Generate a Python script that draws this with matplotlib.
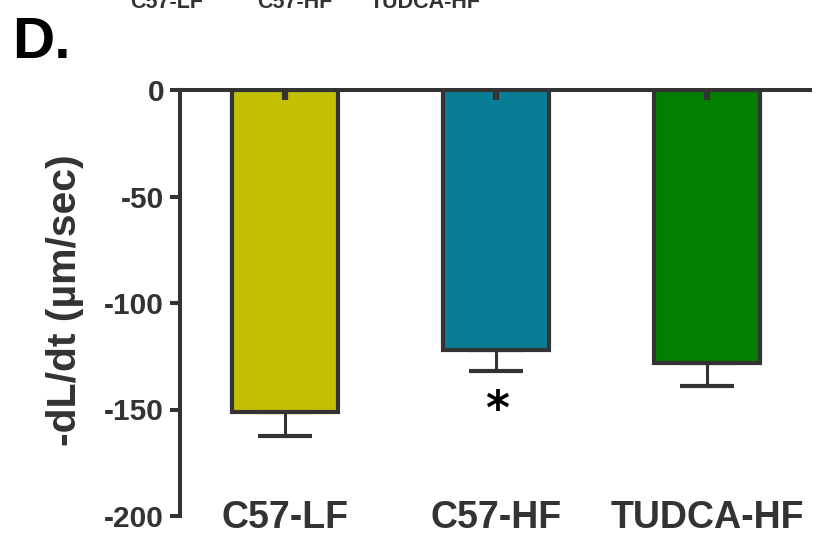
import matplotlib
matplotlib.use("Agg")
import matplotlib.pyplot as plt
import numpy as np

plt.rcParams['axes.unicode_minus'] = False
plt.rcParams['font.family'] = ['Liberation Sans', 'DejaVu Sans']

# data
groups = ["C57-LF", "C57-HF", "TUDCA-HF"]
means = [-151, -122, -128]
sem = [11.5, 10, 11]
bar_colors = ["#C2C000", "#087D96", "#007F00"]
yticks = [0, -50, -100, -150, -200]
sig = ["", "*", ""]

dark = "#333333"
W, H = 819, 535

fig = plt.figure(figsize=(W / 100, H / 100), dpi=100)
ax = fig.add_axes([180 / W, 1 - 516 / H, 630 / W, 426 / H])

x = np.arange(len(groups))
ax.bar(x, means, width=0.5, color=bar_colors, edgecolor=dark, linewidth=3, zorder=2)
ax.errorbar(x, means, yerr=[sem, [0] * len(sem)], fmt='none', ecolor=dark,
            elinewidth=2.2, capsize=19.5, capthick=3, zorder=1)
# little stubs under the baseline, as in the original
ax.vlines(x, 0, -4.7, color=dark, lw=4.5, zorder=3)

ax.set_xlim(-0.498, 2.488)
ax.set_ylim(-200, 0)
ax.set_yticks(yticks)
ax.set_yticklabels([str(t) for t in yticks])
ax.set_xticks([])

for s in ['right', 'bottom']:
    ax.spines[s].set_visible(False)
for s in ['left', 'top']:
    ax.spines[s].set_color(dark)
    ax.spines[s].set_linewidth(2.9)
    ax.spines[s].set_zorder(4)

ax.tick_params(axis='y', direction='out', length=7.5, width=2.9, color=dark,
               labelcolor=dark, labelsize=21.5, pad=4)
for lab in ax.get_yticklabels():
    lab.set_fontweight('bold')

# group names along the bottom
for i, g in enumerate(groups):
    ax.text(i, -205.6, g, ha='center', va='baseline', fontsize=27,
            fontweight='bold', color=dark, clip_on=False)

# significance mark
for i, s in enumerate(sig):
    if s:
        ax.text(i + 0.005, means[i] - sem[i] - 25, s, ha='center', va='baseline',
                fontsize=33, fontweight='bold', color='black',
                family='DejaVu Sans', clip_on=False)

ax.set_ylabel(u"-dL/dt (\u00b5m/sec)", fontsize=29.5, fontweight='bold', color=dark)
ax.yaxis.set_label_coords(84 / W, 1 - 300 / H, transform=fig.transFigure)

# panel letter
fig.text(12 / W, 1 - 58 / H, "D.", fontsize=42, fontweight='bold', color='black',
         va='baseline')

# labels of the panel above, cut off by the top edge
for cx, g in zip([167, 295, 425], groups):
    fig.text(cx / W, 1 - 8 / H, g, fontsize=15.5, fontweight='bold', color=dark,
             ha='center', va='baseline')

fig.savefig("out.png", dpi=100)
